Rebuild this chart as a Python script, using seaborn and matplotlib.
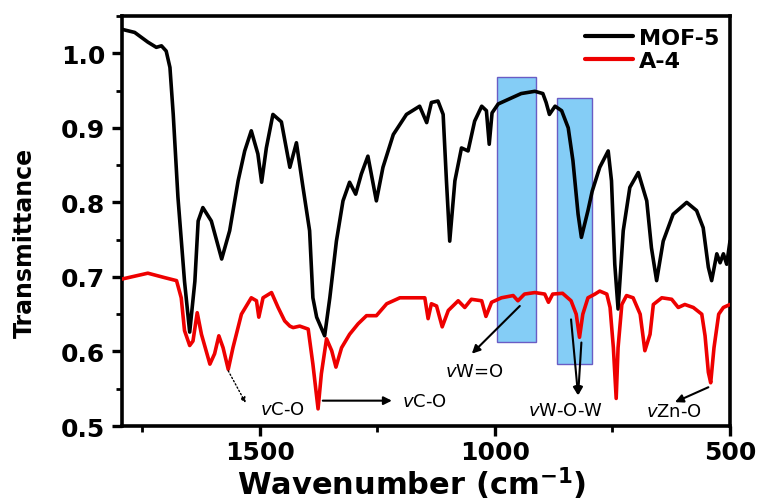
import numpy as np
import pandas as pd
import matplotlib
matplotlib.use("Agg")
import matplotlib.pyplot as plt
from matplotlib.patches import Rectangle
from matplotlib.ticker import MultipleLocator
import seaborn as sns

# FTIR spectra: wavenumber (cm-1) and transmittance
mof5_wn = [1792, 1766, 1738, 1720, 1709, 1699, 1691, 1684, 1674, 1660, 1649, 1638, 1631,
           1621, 1603, 1581, 1564, 1546, 1532, 1518, 1504, 1496, 1486, 1472, 1454, 1436,
           1422, 1408, 1394, 1387, 1379, 1362, 1351, 1337, 1323, 1309, 1296, 1284, 1270,
           1252, 1238, 1216, 1188, 1160, 1145, 1135, 1121, 1110, 1103, 1096, 1085, 1071,
           1057, 1043, 1028, 1018, 1012, 1006, 993, 972, 944, 915, 898, 891, 884, 872,
           858, 844, 834, 823, 816, 802, 793, 777, 759, 752, 745, 738, 727, 713, 695,
           677, 667, 656, 642, 621, 592, 571, 557, 546, 539, 528, 521, 514, 507, 500]
mof5_t = [1.032, 1.028, 1.015, 1.008, 1.010, 1.003, 0.981, 0.918, 0.807, 0.694, 0.626, 0.694,
          0.775, 0.793, 0.775, 0.724, 0.762, 0.829, 0.869, 0.896, 0.865, 0.827, 0.873, 0.918,
          0.908, 0.847, 0.880, 0.820, 0.762, 0.672, 0.646, 0.621, 0.672, 0.748, 0.802, 0.827,
          0.811, 0.838, 0.862, 0.802, 0.847, 0.891, 0.918, 0.929, 0.907, 0.934, 0.936, 0.918,
          0.829, 0.748, 0.829, 0.873, 0.869, 0.909, 0.929, 0.923, 0.878, 0.920, 0.932, 0.938,
          0.946, 0.949, 0.946, 0.934, 0.918, 0.929, 0.923, 0.900, 0.856, 0.784, 0.753, 0.789,
          0.815, 0.847, 0.869, 0.829, 0.717, 0.657, 0.762, 0.820, 0.840, 0.802, 0.739, 0.695,
          0.748, 0.784, 0.800, 0.789, 0.766, 0.713, 0.695, 0.731, 0.719, 0.731, 0.717, 0.748]

a4_wn = [1794, 1766, 1738, 1702, 1677, 1667, 1660, 1649, 1642, 1633, 1624, 1606, 1596, 1587,
         1578, 1567, 1557, 1539, 1518, 1507, 1502, 1493, 1475, 1461, 1447, 1436, 1429, 1415,
         1397, 1387, 1376, 1369, 1358, 1347, 1338, 1326, 1309, 1291, 1273, 1252, 1230, 1202,
         1174, 1149, 1142, 1135, 1124, 1112, 1099, 1078, 1064, 1050, 1028, 1019, 1007, 986,
         961, 951, 937, 915, 894, 886, 877, 856, 838, 827, 820, 813, 802, 787, 777, 762,
         755, 748, 742, 738, 730, 720, 706, 691, 681, 670, 663, 645, 624, 610, 596, 578,
         560, 553, 546, 541, 534, 524, 514, 500]
a4_t = [0.697, 0.701, 0.705, 0.699, 0.695, 0.672, 0.628, 0.608, 0.614, 0.652, 0.623, 0.583,
        0.597, 0.621, 0.605, 0.576, 0.605, 0.650, 0.672, 0.668, 0.646, 0.672, 0.679, 0.659,
        0.641, 0.634, 0.632, 0.634, 0.630, 0.583, 0.523, 0.570, 0.617, 0.601, 0.579, 0.605,
        0.623, 0.637, 0.648, 0.648, 0.664, 0.672, 0.672, 0.672, 0.644, 0.664, 0.661, 0.633,
        0.655, 0.668, 0.659, 0.670, 0.668, 0.647, 0.666, 0.672, 0.675, 0.668, 0.677, 0.679,
        0.677, 0.666, 0.677, 0.678, 0.668, 0.650, 0.619, 0.650, 0.672, 0.677, 0.681, 0.677,
        0.659, 0.605, 0.537, 0.605, 0.663, 0.675, 0.672, 0.650, 0.601, 0.623, 0.663, 0.672,
        0.670, 0.659, 0.663, 0.659, 0.650, 0.621, 0.572, 0.558, 0.605, 0.650, 0.659, 0.663]

series_names = ["MOF-5", "A-4"]
series_colors = ["#000000", "#ee0000"]

# Highlighted W-O bands: (high wn, low wn, bottom T, top T)
bands = [(996, 913, 0.613, 0.968), (867, 793, 0.583, 0.940)]

x_ticks = [1500, 1000, 500]
y_ticks = [0.5, 0.6, 0.7, 0.8, 0.9, 1.0]

df = pd.concat([
    pd.DataFrame({"wn": mof5_wn, "T": mof5_t, "sample": series_names[0]}),
    pd.DataFrame({"wn": a4_wn, "T": a4_t, "sample": series_names[1]}),
])

sns.set_style("ticks")
plt.rcParams["font.family"] = ["DejaVu Sans"]
plt.rcParams["mathtext.fontset"] = "dejavusans"
for key in ["text.color", "axes.labelcolor", "xtick.color", "ytick.color", "axes.edgecolor"]:
    plt.rcParams[key] = "black"

fig = plt.figure(figsize=(7.6, 5.02), dpi=100)
ax = fig.add_axes([0.1605, 0.1494, 0.8, 0.8167])

for hi, lo, yb, yt in bands:
    ax.add_patch(Rectangle((lo, yb), hi - lo, yt - yb, facecolor="#84cdf6",
                           edgecolor="#6a5cc4", linewidth=1.0, zorder=1))

sns.lineplot(data=df, x="wn", y="T", hue="sample", palette=series_colors,
             hue_order=series_names, linewidth=2.6, ax=ax, zorder=3,
             estimator=None, sort=False)

ax.set_xlim(1793, 500)
ax.set_ylim(0.5, 1.05)
ax.set_xticks(x_ticks)
ax.set_yticks(y_ticks)
ax.xaxis.set_minor_locator(MultipleLocator(250))
ax.yaxis.set_minor_locator(MultipleLocator(0.05))
ax.set_yticklabels([f"{v:.1f}" for v in y_ticks])

for s in ax.spines.values():
    s.set_linewidth(2.6)
    s.set_color("black")
ax.tick_params(which="major", direction="out", length=7, width=2.4, labelsize=18,
               colors="black")
ax.tick_params(axis="y", which="major", pad=5)
ax.tick_params(axis="x", which="major", pad=3)
ax.tick_params(which="minor", direction="out", length=4, width=2.0, colors="black")
for lab in ax.get_xticklabels() + ax.get_yticklabels():
    lab.set_fontweight("bold")

ax.set_xlabel("Wavenumber (cm$^{\\mathbf{-1}}$)", fontsize=22, fontweight="bold")
ax.set_ylabel("Transmittance", fontsize=17, fontweight="bold")
ax.xaxis.set_label_coords(0.477, -0.095)
ax.yaxis.set_label_coords(-0.14, 0.45)

leg = ax.legend(loc="upper left", bbox_to_anchor=(0.728, 1.02), frameon=False,
                handlelength=2.2, handletextpad=0.25, labelspacing=0.15,
                prop={"weight": "bold", "size": 16})
for h in leg.get_lines():
    h.set_linewidth(3.0)
for t in leg.get_texts():
    t.set_color("black")

# Band assignments
txt = dict(fontsize=13, ha="center", va="center", color="black", zorder=5)
solid = dict(arrowstyle="-|>", color="black", lw=1.5, mutation_scale=12, shrinkA=0, shrinkB=0)
dotted = dict(arrowstyle="-|>", color="black", lw=1.0, ls=":", mutation_scale=8, shrinkA=0, shrinkB=0)

ax.annotate("", xy=(1530, 0.531), xytext=(1567, 0.574), arrowprops=dotted)
ax.text(1451, 0.523, r"$\mathit{v}$C-O", **txt)

ax.annotate("", xy=(1219, 0.534), xytext=(1366, 0.534), arrowprops=solid)
ax.text(1149, 0.533, r"$\mathit{v}$C-O", **txt)

ax.annotate("", xy=(1049, 0.597), xytext=(947, 0.661), arrowprops=solid)
ax.text(1043, 0.574, r"$\mathit{v}$W=O", **txt)

ax.annotate("", xy=(823, 0.541), xytext=(838, 0.643), arrowprops=solid)
ax.annotate("", xy=(823, 0.541), xytext=(816, 0.612), arrowprops=solid)
ax.text(849, 0.521, r"$\mathit{v}$W-O-W", **txt)

ax.annotate("", xy=(617, 0.532), xytext=(546, 0.552), arrowprops=solid)
ax.text(619, 0.520, r"$\mathit{v}$Zn-O", **txt)

fig.savefig("out.png", dpi=100)
